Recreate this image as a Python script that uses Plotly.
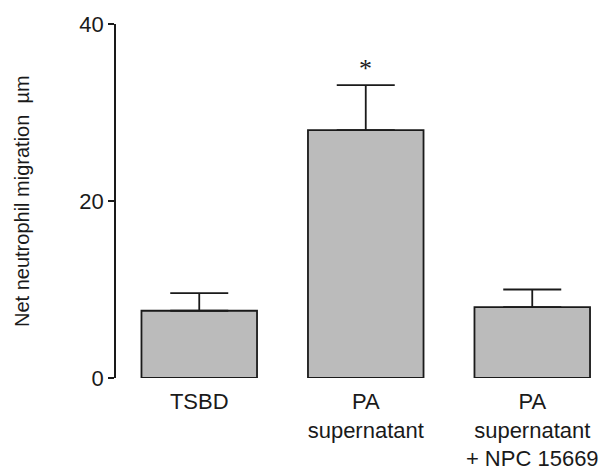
import plotly.graph_objects as go

categories = ["TSBD", "PA<br>supernatant", "PA<br>supernatant<br>+ NPC 15669"]
means = [7.6, 28.0, 8.0]
errors = [2.0, 5.1, 2.0]
y_ticks = [0, 20, 40]
sig_marks = ["", "*", ""]

W, H = 603, 474
ml, mr, mt, mb = 116, 0, 24, 96
pw = W - ml - mr

fig = go.Figure()
fig.add_trace(go.Bar(
    x=list(range(len(categories))),
    y=means,
    width=0.694,
    marker=dict(color="#bbbbbb", line=dict(color="#1a1a1a", width=1.8)),
    error_y=dict(type="data", symmetric=False, array=errors,
                 arrayminus=[0] * len(errors),
                 color="#1a1a1a", thickness=1.8, width=29),
    showlegend=False,
))

for i, (m, e, s) in enumerate(zip(means, errors, sig_marks)):
    if s:
        fig.add_annotation(x=i, y=m + e, text=s, showarrow=False,
                           xref="x", yref="y", yanchor="bottom", yshift=0,
                           font=dict(family="Liberation Serif", size=26, color="#1a1a1a"))

fig.add_annotation(text="Net neutrophil migration  µm", textangle=-90,
                   xref="paper", yref="paper", x=(22 - ml) / pw, y=0.5,
                   xanchor="center", yanchor="middle", showarrow=False,
                   font=dict(family="Liberation Sans, Arial", size=20, color="#1a1a1a"))

unit = 166.5
x_end = pw / unit - 0.5

fig.update_layout(
    width=W, height=H,
    margin=dict(l=ml, r=mr, t=mt, b=mb),
    paper_bgcolor="white", plot_bgcolor="white",
    font=dict(family="Liberation Sans, Arial", color="#1a1a1a"),
    xaxis=dict(range=[-0.5, x_end], tickmode="array",
               tickvals=list(range(len(categories))), ticktext=categories,
               showline=False, ticks="", showgrid=False, zeroline=False,
               tickfont=dict(size=22), ticklabelstandoff=8),
    yaxis=dict(range=[0, 40], tickmode="array", tickvals=y_ticks,
               ticktext=[str(t) for t in y_ticks],
               showline=True, linecolor="#1a1a1a", linewidth=1.5,
               ticks="outside", ticklen=6, tickwidth=1.5, tickcolor="#1a1a1a",
               showgrid=False, zeroline=False, tickfont=dict(size=22)),
)

fig.write_html("out.html")
